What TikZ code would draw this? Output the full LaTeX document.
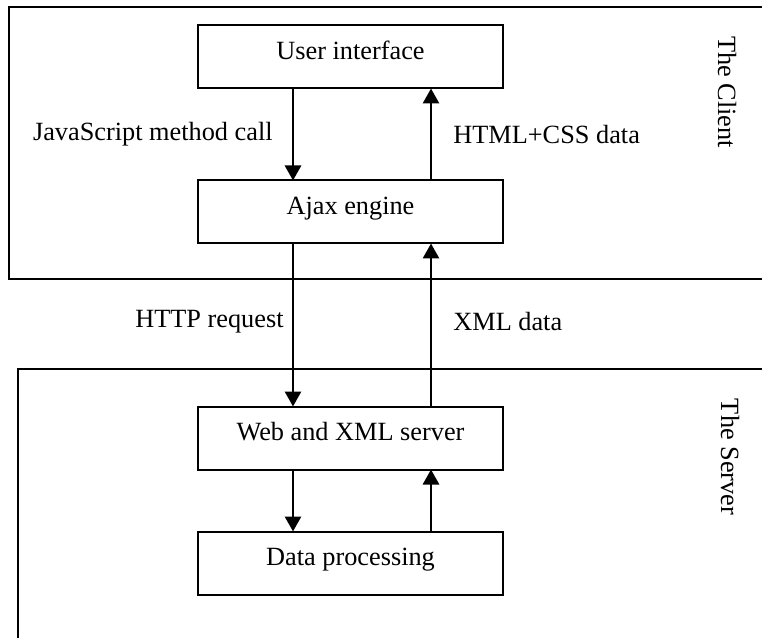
\documentclass[tikz,border=0pt]{standalone}
\usepackage{fontspec}
\setmainfont{Liberation Serif}
\usetikzlibrary{positioning,arrows.meta}

\begin{document}
\begin{tikzpicture}[%
		x=1pt, y=1pt,
		>={Triangle[width=16pt,length=15pt]},
		font=\fontsize{26.3}{31}\selectfont,
		box/.style={%
			minimum width=305pt,
			minimum height=63pt,
			text height=18pt,
			text depth=13pt,
			line width=2pt,
			outer sep=0pt,
			draw
		},
		flow/.style={->, line width=2.8pt},
		frame/.style={line width=2pt},
		lbl/.style={inner sep=0pt}
		]
		\useasboundingbox (0,0) rectangle (762,638);
		
		\node[box] (ui) at (350.5,581)                                {User interface};
		\node[box] (ajax) [below=92pt of ui]                          {Ajax engine};
		\node[box] (web) [below=163pt of ajax]                        {Web and XML server};
		\node[box] (data) [below=62pt of web]                         {Data processing};
		
		% client and server areas
		\draw[frame] (762,631) -| (9,359) -- (762,359);
		\draw[frame] (762,269) -| (18,0);
		\node[rotate=-90] (client) at (727,546)                       {The Client};
		\node[rotate=-90] (server) at (730,181)                       {The Server};
		
		\path[flow] ([xshift=-57.5pt]ui.south) edge               node[lbl,left=19pt] {JavaScript method call} ([xshift=-57.5pt]ajax.north)
		([xshift=80.5pt]ajax.north) edge                            node[lbl,right=21pt] {HTML+CSS data} ([xshift=80.5pt]ui.south)
		([xshift=-57.5pt]ajax.south) edge                           node[lbl,left=8pt,yshift=3.5pt] {HTTP request} ([xshift=-57.5pt]web.north)
		([xshift=80.5pt]web.north) edge                             node[lbl,right=21pt,yshift=3.5pt] {XML data} ([xshift=80.5pt]ajax.south)
		([xshift=-57.5pt]web.south) edge                            node {} ([xshift=-57.5pt]data.north)
		([xshift=80.5pt]data.north) edge                            node {} ([xshift=80.5pt]web.south);
\end{tikzpicture}
\end{document}
